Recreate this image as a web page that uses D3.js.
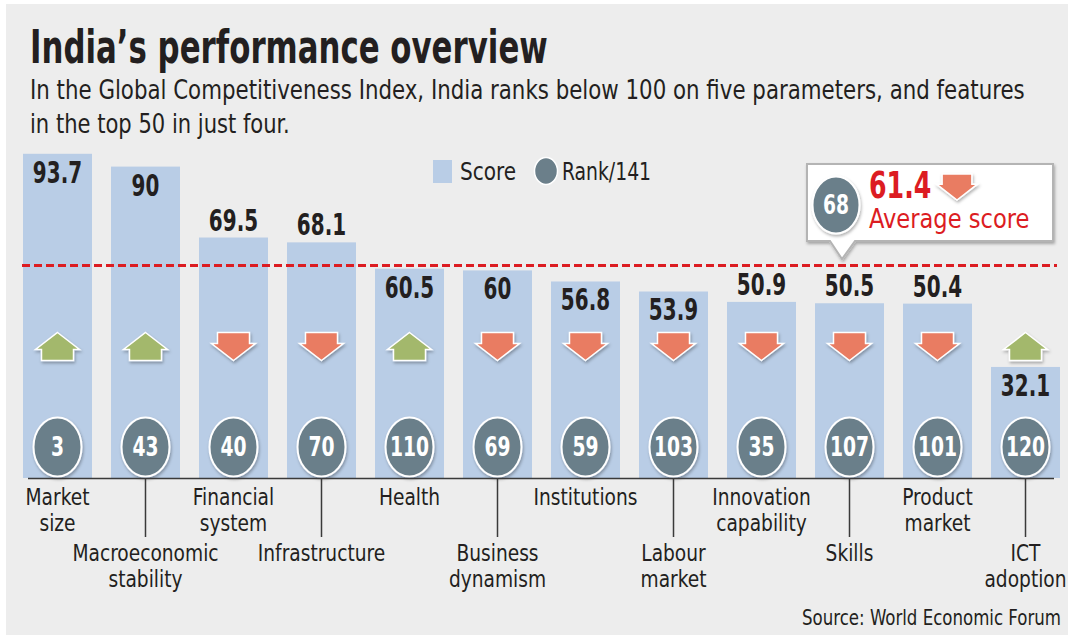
<!DOCTYPE html>
<html>
<head>
<meta charset="utf-8">
<script src="https://cdn.jsdelivr.net/npm/d3@7/dist/d3.min.js"></script>
<style>
    body { margin: 0; background: #fff; }
    svg { display: block; }
    text { font-family: "Liberation Sans Narrow", "Arial Narrow", "DejaVu Sans Condensed", sans-serif; fill: #231f20; }
</style>
</head>
<body>
<script>
//wrap everything in anon function
(function(){
    //chart data
    var categories = ["Market size", "Macroeconomic stability", "Financial system", "Infrastructure", "Health", "Business dynamism", "Institutions", "Labour market", "Innovation capability", "Skills", "Product market", "ICT adoption"];
    var labelLines = [["Market", "size"], ["Macroeconomic", "stability"], ["Financial", "system"], ["Infrastructure"], ["Health"], ["Business", "dynamism"], ["Institutions"], ["Labour", "market"], ["Innovation", "capability"], ["Skills"], ["Product", "market"], ["ICT", "adoption"]];
    var scores = [93.7, 90, 69.5, 68.1, 60.5, 60, 56.8, 53.9, 50.9, 50.5, 50.4, 32.1];
    var ranks = [3, 43, 40, 70, 110, 69, 59, 103, 35, 107, 101, 120];
    var trends = ["up", "up", "down", "down", "up", "down", "down", "down", "down", "down", "down", "up"];
    var averageScore = 61.4;
    var averageRank = 68;
    var averageTrend = "down";
    var legendLabels = ["Score", "Rank/141"];

    var title = "India\u2019s performance overview";
    var subtitle = ["In the Global Competitiveness Index, India ranks below 100 on five parameters, and features", "in the top 50 in just four."];
    var source = "Source: World Economic Forum";

    //colours
    var barColor = "#b9cde6",
        rankColor = "#6b7f8a",
        upColor = "#a3b86c",
        downColor = "#e97b62",
        red = "#dc1c22";

    window.onload = drawChart();

    //squeeze text horizontally round its anchor x, the installed fonts are wider than the original condensed face
    //k is a factor, or a function giving the wanted width
    function condense(sel, k){
        sel.each(function(d, i){
            var w = this.getComputedTextLength();
            var f = typeof k == "function" ? k(d, i) / w : k;
            var ax = +this.getAttribute("x");
            this.setAttribute("transform", "translate(" + ax + " 0) scale(" + f + " 1) translate(" + (-ax) + " 0)");
        });
    };

    function drawChart(){
        var width = 1068,
            height = 635;

        var svg = d3.select("body")
            .append("svg")
            .attr("width", width)
            .attr("height", height);

        //drop shadow for circles, arrows and the callout
        var defs = svg.append("defs");
        var shadow = defs.append("filter")
            .attr("id", "shadow")
            .attr("x", "-30%").attr("y", "-30%")
            .attr("width", "160%").attr("height", "160%");
        shadow.append("feDropShadow")
            .attr("dx", 1).attr("dy", 2)
            .attr("stdDeviation", 1.5)
            .attr("flood-color", "#000")
            .attr("flood-opacity", 0.3);

        //grey panel
        svg.append("rect")
            .attr("x", 6).attr("y", 4)
            .attr("width", width - 6).attr("height", height - 4)
            .attr("fill", "#ededed");

        //title and subtitle
        svg.append("text")
            .attr("x", 30).attr("y", 63)
            .style("font-size", "46px")
            .style("font-weight", "bold")
            .text(title)
            .call(condense, function(){ return 518; });

        var subWidths = [995, 260];
        svg.selectAll(".subtitle")
            .data(subtitle)
            .enter()
            .append("text")
            .attr("class", "subtitle")
            .attr("x", 30)
            .attr("y", function(d, i){ return 99 + i * 34; })
            .style("font-size", "27px")
            .text(function(d){ return d; })
            .call(condense, function(d, i){ return subWidths[i]; });

        //scales
        var x = d3.scaleBand()
            .domain(categories)
            .range([23, 1060])
            .paddingInner(0.216)
            .paddingOuter(0);

        var y = d3.scaleLinear()
            .domain([0, 100])
            .range([478, 132]);

        var rows = categories.map(function(c, i){
            return {name: c, lines: labelLines[i], score: scores[i], rank: ranks[i], trend: trends[i], i: i};
        });
        function cx(d){ return x(d.name) + x.bandwidth() / 2; }

        //bars
        svg.selectAll(".bar")
            .data(rows)
            .enter()
            .append("rect")
            .attr("class", "bar")
            .attr("x", function(d){ return x(d.name); })
            .attr("y", function(d){ return y(d.score); })
            .attr("width", x.bandwidth())
            .attr("height", function(d){ return y(0) - y(d.score); })
            .attr("fill", barColor);

        //average line
        var avgY = y(averageScore);
        svg.append("line")
            .attr("x1", 22).attr("x2", 1057)
            .attr("y1", avgY).attr("y2", avgY)
            .attr("stroke", red)
            .attr("stroke-width", 3)
            .attr("stroke-dasharray", "8,4");

        //value labels: above the bar unless that hits the subtitle, the average line or the arrow row
        var arrowTop = 332, arrowBottom = 361;
        function labelInside(d){
            var base = y(d.score) - 7, top = base - 22;
            if (top < 150) return true;
            if (top - 6 < avgY && avgY < base + 6) return true;
            if (base > arrowTop && top < arrowBottom) return true;
            return false;
        }
        svg.selectAll(".value")
            .data(rows)
            .enter()
            .append("text")
            .attr("class", "value")
            .attr("x", cx)
            .attr("y", function(d){ return labelInside(d) ? y(d.score) + 29 : y(d.score) - 7; })
            .attr("text-anchor", "middle")
            .style("font-size", "30px")
            .style("font-weight", "bold")
            .text(function(d){ return d.score; })
            .call(condense, 0.74);

        //arrow shape centred on 0,0
        function arrowPath(dir, s){
            s = s || 1;
            var pts = [[0, -14], [22, 3], [16, 3], [16, 14], [-16, 14], [-16, 3], [-22, 3]];
            if (dir == "down"){
                pts = pts.map(function(p){ return [p[0], -p[1]]; });
            }
            return "M" + pts.map(function(p){ return [p[0] * s, p[1] * s].join(","); }).join("L") + "Z";
        }

        svg.selectAll(".arrow")
            .data(rows)
            .enter()
            .append("path")
            .attr("class", "arrow")
            .attr("transform", function(d){ return "translate(" + cx(d) + "," + (arrowTop + arrowBottom) / 2 + ")"; })
            .attr("d", function(d){ return arrowPath(d.trend); })
            .attr("fill", function(d){ return d.trend == "up" ? upColor : downColor; })
            .attr("stroke", "#fff")
            .attr("stroke-width", 1.5)
            .attr("filter", "url(#shadow)");

        //rank circles
        var ranksG = svg.selectAll(".rank")
            .data(rows)
            .enter()
            .append("g")
            .attr("class", "rank")
            .attr("transform", function(d){ return "translate(" + cx(d) + ",447)"; });
        ranksG.append("ellipse")
            .attr("rx", 24).attr("ry", 29.5)
            .attr("fill", rankColor)
            .attr("stroke", "#fff")
            .attr("stroke-width", 2)
            .attr("filter", "url(#shadow)");
        ranksG.append("text")
            .attr("x", 0)
            .attr("y", 9)
            .attr("text-anchor", "middle")
            .style("font-size", "26px")
            .style("font-weight", "bold")
            .style("fill", "#fff")
            .text(function(d){ return d.rank; })
            .call(condense, 0.8);

        //axis line
        svg.append("line")
            .attr("x1", 28).attr("x2", 1054)
            .attr("y1", 478.5).attr("y2", 478.5)
            .attr("stroke", "#3a3a3a")
            .attr("stroke-width", 1.5);

        //leader lines for the lower label row
        svg.selectAll(".leader")
            .data(rows.filter(function(d){ return d.i % 2 == 1; }))
            .enter()
            .append("line")
            .attr("class", "leader")
            .attr("x1", cx)
            .attr("x2", cx)
            .attr("y1", 478).attr("y2", 537)
            .attr("stroke", "#3a3a3a")
            .attr("stroke-width", 1.5);

        //category labels, alternating rows, one text per line
        var lines = [];
        rows.forEach(function(d){
            d.lines.forEach(function(l, j){
                lines.push({text: l, j: j, d: d});
            });
        });
        svg.selectAll(".cat")
            .data(lines)
            .enter()
            .append("text")
            .attr("class", "cat")
            .attr("x", function(t){ return cx(t.d); })
            .attr("y", function(t){ return (t.d.i % 2 == 0 ? 505 : 561) + t.j * 26; })
            .attr("text-anchor", "middle")
            .style("font-size", "23px")
            .text(function(t){ return t.text; })
            .call(condense, 0.9);

        //legend
        svg.append("rect")
            .attr("x", 433).attr("y", 160)
            .attr("width", 19).attr("height", 23)
            .attr("fill", barColor);
        svg.append("text")
            .attr("x", 460).attr("y", 180)
            .style("font-size", "24px")
            .text(legendLabels[0])
            .call(condense, 0.93);
        svg.append("ellipse")
            .attr("cx", 546).attr("cy", 171)
            .attr("rx", 11.5).attr("ry", 13.5)
            .attr("fill", rankColor)
            .attr("stroke", "#fff")
            .attr("stroke-width", 1.5);
        svg.append("text")
            .attr("x", 562).attr("y", 180)
            .style("font-size", "24px")
            .text(legendLabels[1])
            .call(condense, 0.87);

        //average callout
        var callout = svg.append("g");
        callout.append("path")
            .attr("d", "M807,164H1053V241H855L842,259L830,241H807Z")
            .attr("fill", "#fff")
            .attr("stroke", "#b4b4b4")
            .attr("stroke-width", 2)
            .attr("filter", "url(#shadow)");
        callout.append("ellipse")
            .attr("cx", 836).attr("cy", 205)
            .attr("rx", 23.5).attr("ry", 28.5)
            .attr("fill", rankColor)
            .attr("stroke", "#fff")
            .attr("stroke-width", 2)
            .attr("filter", "url(#shadow)");
        callout.append("text")
            .attr("x", 836).attr("y", 214)
            .attr("text-anchor", "middle")
            .style("font-size", "26px")
            .style("font-weight", "bold")
            .style("fill", "#fff")
            .text(averageRank)
            .call(condense, 0.8);
        callout.append("text")
            .attr("x", 869).attr("y", 198)
            .style("font-size", "38px")
            .style("font-weight", "bold")
            .style("fill", red)
            .text(averageScore)
            .call(condense, 0.74);
        callout.append("path")
            .attr("transform", "translate(957,187)")
            .attr("d", arrowPath(averageTrend, 0.93))
            .attr("fill", downColor)
            .attr("stroke", "#fff")
            .attr("stroke-width", 1.5)
            .attr("filter", "url(#shadow)");
        callout.append("text")
            .attr("x", 869).attr("y", 228)
            .style("font-size", "27px")
            .style("fill", red)
            .text("Average score")
            .call(condense, 0.93);

        //source
        svg.append("text")
            .attr("x", 1061).attr("y", 625)
            .attr("text-anchor", "end")
            .style("font-size", "21px")
            .text(source)
            .call(condense, 0.88);
    };
})();
</script>
</body>
</html>
